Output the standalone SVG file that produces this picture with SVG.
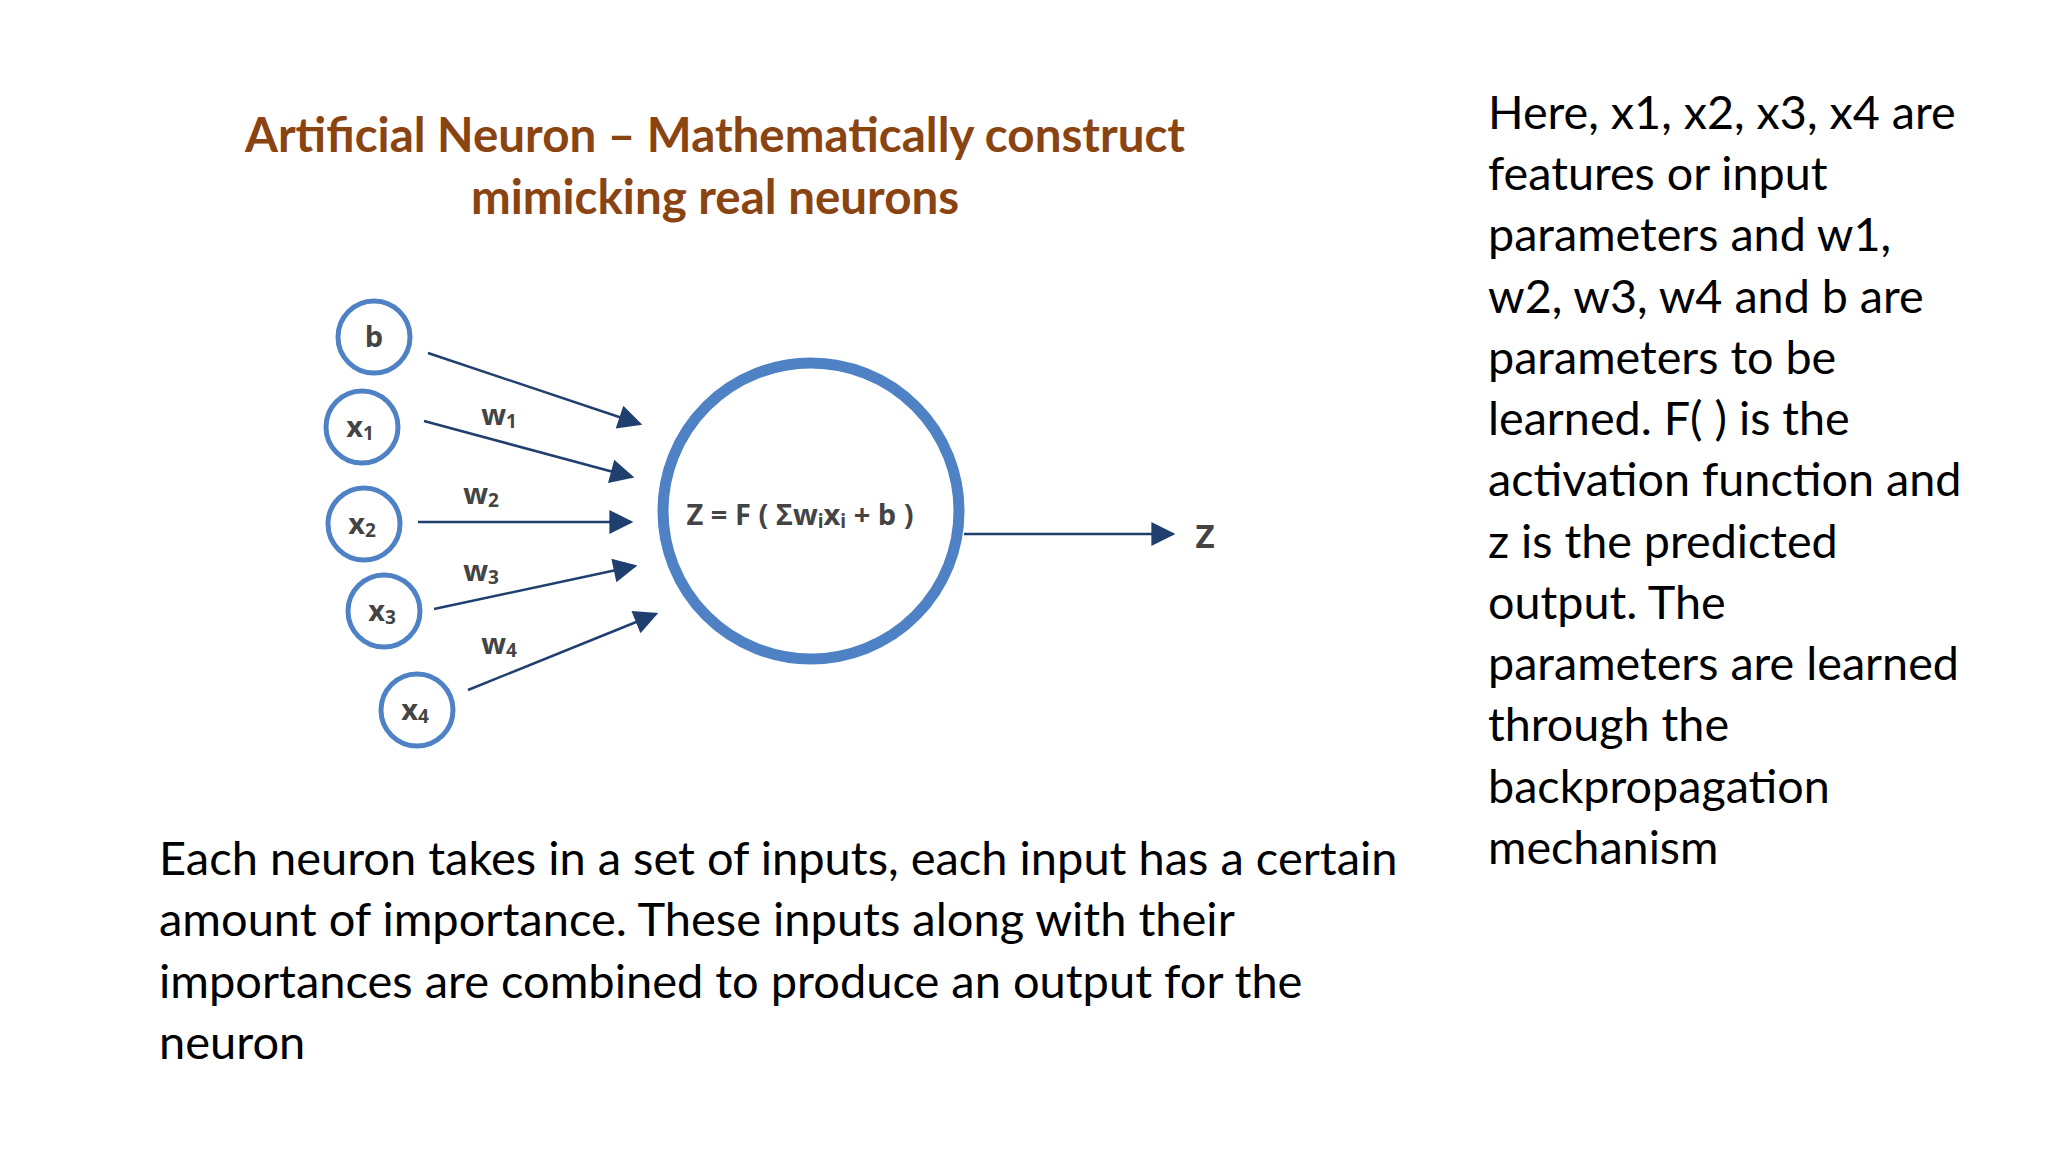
<svg xmlns="http://www.w3.org/2000/svg" width="2048" height="1152" viewBox="0 0 2048 1152">
<style>
.t{font-family:Lato,"Open Sans",sans-serif;font-size:47px;fill:#000}
.r{font-size:46.7px}
.h{font-family:Lato,"Open Sans",sans-serif;font-size:47.5px;font-weight:bold;fill:#8a4412;text-anchor:middle}
.n{fill:#fff;stroke:#4f82c4;stroke-width:5}
.l{font-family:"Open Sans",Lato,sans-serif;font-size:29px;font-weight:bold;fill:#444;text-anchor:middle;dominant-baseline:central}
.s{font-size:19px}
</style>
<defs>
<marker id="b" viewBox="0 0 10 10" refX="9" refY="5" markerWidth="28" markerHeight="24" orient="auto" markerUnits="userSpaceOnUse"><path d="M0,0L10,5L0,10z" fill="#1f3f6e"/></marker></defs>
<text class="h" x="715" y="152">Artificial Neuron – Mathematically construct</text>
<text class="h" x="715" y="214">mimicking real neurons</text>
<g id="connectors" stroke="#1f3f6e" stroke-width="2.5" fill="none">
<line x1="428" y1="353" x2="640" y2="424" marker-end="url(#b)"/>
<line x1="424" y1="421" x2="632" y2="477" marker-end="url(#b)"/>
<line x1="418" y1="522" x2="631" y2="522" marker-end="url(#b)"/>
<line x1="434" y1="609" x2="635" y2="566" marker-end="url(#b)"/>
<line x1="468" y1="690" x2="656" y2="614" marker-end="url(#b)"/>
<line x1="964" y1="534" x2="1173" y2="534" marker-end="url(#b)"/>
</g>
<g id="weights">
<text class="l" x="499" y="413">w<tspan class="s" dy="8">1</tspan></text>
<text class="l" x="481" y="492">w<tspan class="s" dy="8">2</tspan></text>
<text class="l" x="481" y="569">w<tspan class="s" dy="8">3</tspan></text>
<text class="l" x="499" y="642">w<tspan class="s" dy="8">4</tspan></text>
</g>
<g id="b_node"><circle class="n" cx="374" cy="337" r="36"/><text class="l" x="374" y="335">b</text></g>
<g id="x1"><circle class="n" cx="362" cy="427" r="36"/><text class="l" x="360" y="425">x<tspan class="s" dy="8">1</tspan></text></g>
<g id="x2"><circle class="n" cx="364" cy="524" r="36"/><text class="l" x="362" y="522">x<tspan class="s" dy="8">2</tspan></text></g>
<g id="x3"><circle class="n" cx="384" cy="611" r="36"/><text class="l" x="382" y="609">x<tspan class="s" dy="8">3</tspan></text></g>
<g id="x4"><circle class="n" cx="417" cy="710" r="36"/><text class="l" x="415" y="708">x<tspan class="s" dy="8">4</tspan></text></g>
<g id="neuron"><circle cx="811" cy="511" r="148" fill="#fff" stroke="#4f82c4" stroke-width="11"/>
<text class="l" x="800" y="513">Z = F ( Σw<tspan class="s" dy="8">i</tspan><tspan dy="-8">x</tspan><tspan class="s" dy="8">i</tspan><tspan dy="-8"> + b )</tspan></text></g>
<g id="z"><text class="l" x="1205" y="535" style="font-size:33px">Z</text></g>
<g class="t">
<g class="r">
<text x="1488" y="129">Here, x1, x2, x3, x4 are</text>
<text x="1488" y="190">features or input</text>
<text x="1488" y="251">parameters and w1,</text>
<text x="1488" y="313">w2, w3, w4 and b are</text>
<text x="1488" y="374">parameters to be</text>
<text x="1488" y="435">learned. F( ) is the</text>
<text x="1488" y="496">activation function and</text>
<text x="1488" y="558">z is the predicted</text>
<text x="1488" y="619">output. The</text>
<text x="1488" y="680">parameters are learned</text>
<text x="1488" y="741">through the</text>
<text x="1488" y="803">backpropagation</text>
<text x="1488" y="864">mechanism</text>
</g>
<text x="159" y="875">Each neuron takes in a set of inputs, each input has a certain</text>
<text x="159" y="936">amount of importance. These inputs along with their</text>
<text x="159" y="998">importances are combined to produce an output for the</text>
<text x="159" y="1059">neuron</text>
</g>
</svg>
